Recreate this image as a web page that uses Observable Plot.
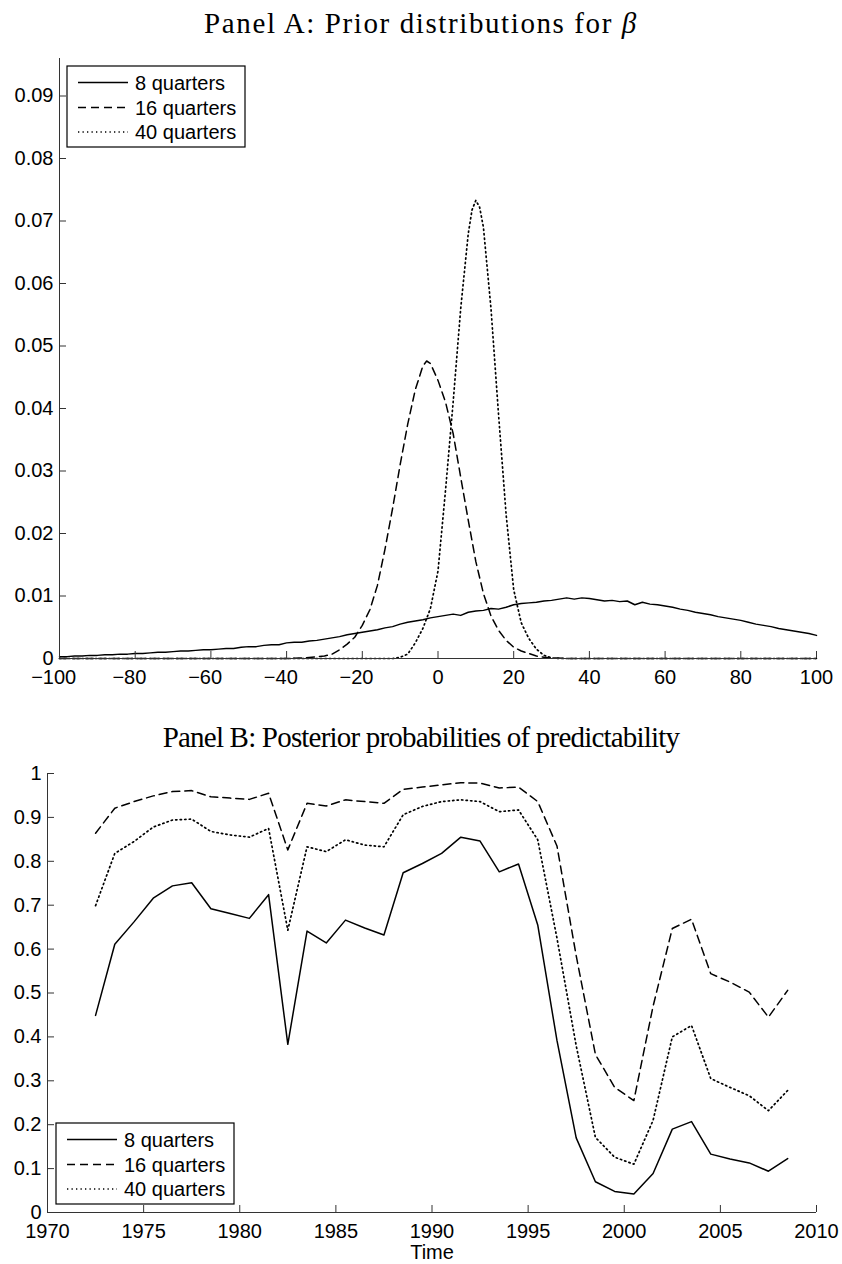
<!DOCTYPE html>
<html>
<head>
<meta charset="utf-8">
<script src="https://cdn.jsdelivr.net/npm/d3@7"></script>
<script src="https://cdn.jsdelivr.net/npm/@observablehq/plot@0.6"></script>
<style>
  html, body { margin: 0; padding: 0; background: #fff; }
  #page { position: relative; width: 842px; height: 1264px; overflow: hidden; }
  .title { position: absolute; left: 0; width: 842px; text-align: center; font-family: "Liberation Serif", "Times New Roman", serif; font-size: 29px; line-height: 30px; color: #000; white-space: nowrap; }
  .abs { position: absolute; left: 0; }
</style>
</head>
<body>
<div id="page">
  <div class="abs" id="plotA" style="top:40px"></div>
  <div class="abs" id="plotB" style="top:755px"></div>
  <div class="title" id="titleA" style="top:8px; letter-spacing:1.6px">Panel A: Prior distributions for <i>β</i></div>
  <div class="title" id="titleB" style="top:722px; letter-spacing:-0.8px">Panel B: Posterior probabilities of predictability</div>
</div>
<script>
// ---------------- Panel A data ----------------
const seriesNames = ["8 quarters", "16 quarters", "40 quarters"];
const seriesDash = [null, "8,5", "1.3,3.2"];

const betaA8 = [-100,-98,-96,-94,-92,-90,-88,-86,-84,-82,-80,-78,-76,-74,-72,-70,-68,-66,-64,-62,-60,-58,-56,-54,-52,-50,-48,-46,-44,-42,-40,-38,-36,-34,-32,-30,-28,-26,-24,-22,-20,-18,-16,-14,-12,-10,-8,-6,-4,-2,0,2,4,6,8,10,12,14,16,18,20,22,24,26,28,30,32,34,36,38,40,42,44,46,48,50,52,54,56,58,60,62,64,66,68,70,72,74,76,78,80,82,84,86,88,90,92,94,96,98,100];
const densA8 = [0.0003,0.0003,0.0004,0.0004,0.0005,0.0005,0.0006,0.0006,0.0007,0.0007,0.0008,0.0008,0.0009,0.0010,0.0010,0.0011,0.0012,0.0012,0.0013,0.0014,0.0014,0.0015,0.0016,0.0016,0.0018,0.0019,0.0019,0.0021,0.0022,0.0022,0.0025,0.0026,0.0026,0.0028,0.0029,0.0031,0.0033,0.0035,0.0038,0.0040,0.0042,0.0044,0.0046,0.0049,0.0051,0.0055,0.0058,0.0060,0.0062,0.0065,0.0067,0.0069,0.0071,0.0069,0.0074,0.0076,0.0077,0.0080,0.0079,0.0082,0.0086,0.0088,0.0089,0.0090,0.0092,0.0093,0.0095,0.0097,0.0095,0.0097,0.0096,0.0094,0.0092,0.0093,0.0091,0.0092,0.0086,0.0090,0.0087,0.0086,0.0084,0.0082,0.0079,0.0077,0.0074,0.0072,0.0070,0.0067,0.0065,0.0063,0.0061,0.0058,0.0055,0.0053,0.0051,0.0048,0.0046,0.0044,0.0042,0.0040,0.0037];

const betaA16 = [-100,-40,-35,-30,-28,-26,-24,-22,-20,-18,-16,-14,-12,-10,-8,-6,-4,-3,-2,0,2,4,6,8,10,12,14,16,18,20,22,24,26,28,30,35,100];
const densA16 = [0,0,0.0001,0.0004,0.0007,0.0014,0.0023,0.0034,0.0053,0.0078,0.0117,0.0175,0.0240,0.0310,0.0375,0.0430,0.0468,0.0476,0.0472,0.0445,0.0410,0.0360,0.0290,0.0221,0.0155,0.0104,0.0068,0.0045,0.0029,0.0018,0.0012,0.0008,0.0004,0.0002,0.0001,0,0];

const betaA40 = [-100,-12,-10,-8,-6,-4,-2,0,2,4,6,8,9,10,11,12,14,16,18,20,22,24,26,28,30,32,100];
const densA40 = [0,0,0.0002,0.0007,0.0025,0.0048,0.0080,0.0140,0.0270,0.0410,0.0560,0.0680,0.0718,0.0733,0.0722,0.0690,0.0560,0.0390,0.0230,0.0110,0.0057,0.0032,0.0015,0.0005,0.0001,0,0];

const xTicksA = [-100,-80,-60,-40,-20,0,20,40,60,80,100];
const yTicksA = [0,0.01,0.02,0.03,0.04,0.05,0.06,0.07,0.08,0.09];

// ---------------- Panel B data ----------------
const yearsB = [1972.5,1973.5,1974.5,1975.5,1976.5,1977.5,1978.5,1979.5,1980.5,1981.5,1982.5,1983.5,1984.5,1985.5,1986.5,1987.5,1988.5,1989.5,1990.5,1991.5,1992.5,1993.5,1994.5,1995.5,1996.5,1997.5,1998.5,1999.5,2000.5,2001.5,2002.5,2003.5,2004.5,2005.5,2006.5,2007.5,2008.5];
const probB8  = [0.449,0.611,0.662,0.716,0.744,0.751,0.692,0.681,0.670,0.724,0.383,0.641,0.614,0.666,0.648,0.632,0.774,0.795,0.818,0.855,0.846,0.776,0.794,0.655,0.392,0.170,0.070,0.048,0.042,0.089,0.190,0.207,0.133,0.122,0.113,0.094,0.123];
const probB16 = [0.864,0.921,0.936,0.949,0.959,0.961,0.947,0.944,0.941,0.955,0.826,0.932,0.926,0.940,0.936,0.932,0.964,0.969,0.974,0.979,0.978,0.967,0.969,0.936,0.835,0.585,0.360,0.285,0.255,0.470,0.647,0.668,0.544,0.525,0.502,0.445,0.506];
const probB40 = [0.699,0.818,0.845,0.878,0.894,0.896,0.868,0.860,0.855,0.875,0.643,0.833,0.822,0.849,0.837,0.833,0.906,0.925,0.936,0.940,0.936,0.913,0.917,0.849,0.625,0.380,0.171,0.126,0.110,0.210,0.400,0.426,0.305,0.285,0.266,0.232,0.278];

const xTicksB = [1970,1975,1980,1985,1990,1995,2000,2005,2010];
const yTicksB = [0,0.1,0.2,0.3,0.4,0.5,0.6,0.7,0.8,0.9,1];

// ---------------- helpers ----------------
const zip = (xs, ys) => xs.map((x, i) => ({x, y: ys[i]}));
const lineStyle = (k) => ({x: "x", y: "y", stroke: "#000", strokeWidth: k === 2 ? 1.7 : 1.5, strokeDasharray: seriesDash[k], curve: "linear"});
const axisColor = "#333";
const fmtA = d => d === 0 ? "0" : d.toFixed(2);
const fmtB = d => (d === 0 || d === 1) ? String(d) : d.toFixed(1);
const fmtX = d => String(d).replace("-", "\u2212");

const svgStyle = {fontFamily: "'Liberation Sans', Arial, sans-serif", fontSize: "20px", color: "#000", background: "transparent", overflow: "visible"};

// ---------------- Panel A ----------------
const plotA = Plot.plot({
  width: 842, height: 655,
  marginLeft: 59, marginRight: 26, marginTop: 18, marginBottom: 37,
  style: svgStyle,
  x: {domain: [-100, 100]},
  y: {domain: [0, 0.096]},
  marks: [
    Plot.line(zip(betaA8, densA8), lineStyle(0)),
    Plot.line(zip(betaA16, densA16), lineStyle(1)),
    Plot.line(zip(betaA40, densA40), lineStyle(2)),
    Plot.ruleX([-100], {stroke: axisColor}),
    Plot.ruleY([0], {stroke: axisColor}),
    Plot.axisY({ticks: yTicksA, tickFormat: fmtA, tickSize: -7, tickPadding: 13, stroke: axisColor, label: null, fill: "#000"}),
    // tick marks only
    Plot.axisX({ticks: xTicksA, tickFormat: () => "", tickSize: -7, stroke: axisColor, label: null}),
    // labels: minus sign hangs left of centred digits
    Plot.axisX({ticks: xTicksA.filter(d => d < 0), tickFormat: fmtX, tickSize: 0, tickPadding: 11, dx: -5.8, label: null, fill: "#000"}),
    Plot.axisX({ticks: xTicksA.filter(d => d >= 0), tickFormat: fmtX, tickSize: 0, tickPadding: 11, label: null, fill: "#000"})
  ]
});
document.getElementById("plotA").appendChild(plotA);

// ---------------- Panel B ----------------
const plotB = Plot.plot({
  width: 842, height: 509,
  marginLeft: 47, marginRight: 26, marginTop: 18, marginBottom: 52,
  style: svgStyle,
  x: {domain: [1970, 2010]},
  y: {domain: [0, 1]},
  marks: [
    Plot.line(zip(yearsB, probB8), lineStyle(0)),
    Plot.line(zip(yearsB, probB16), lineStyle(1)),
    Plot.line(zip(yearsB, probB40), lineStyle(2)),
    Plot.ruleX([1970], {stroke: axisColor}),
    Plot.ruleY([0], {stroke: axisColor}),
    Plot.axisY({ticks: yTicksB, tickFormat: fmtB, tickSize: -7, tickPadding: 13, stroke: axisColor, label: null, fill: "#000"}),
    Plot.axisX({ticks: xTicksB, tickFormat: d => String(d), tickSize: -7, tickPadding: 18, stroke: axisColor, label: "Time", labelAnchor: "center", labelArrow: "none", labelOffset: 46, fill: "#000"})
  ]
});
document.getElementById("plotB").appendChild(plotB);

// ---------------- Legends (overlay) ----------------
function legend(left, top) {
  const w = 178, h = 81;
  const svg = d3.select("#page").append("svg")
    .attr("width", w + 2).attr("height", h + 2)
    .style("position", "absolute").style("left", (left - 1) + "px").style("top", (top - 1) + "px");
  svg.append("rect").attr("x", 1).attr("y", 1).attr("width", w).attr("height", h)
    .attr("fill", "#fff").attr("stroke", "#000").attr("stroke-width", 1.2);
  const rows = [16.5, 41.5, 66];
  seriesNames.forEach((name, i) => {
    svg.append("line").attr("x1", 12).attr("x2", 62).attr("y1", rows[i] + 1).attr("y2", rows[i] + 1)
      .attr("stroke", "#000").attr("stroke-width", i === 2 ? 1.7 : 1.5)
      .attr("stroke-dasharray", seriesDash[i]);
    svg.append("text").attr("x", 69).attr("y", rows[i] + 1).attr("dy", "0.35em")
      .attr("font-family", "'Liberation Sans', Arial, sans-serif").attr("font-size", 20)
      .text(name);
  });
}
legend(67, 66);
legend(56, 1123);
</script>
</body>
</html>
